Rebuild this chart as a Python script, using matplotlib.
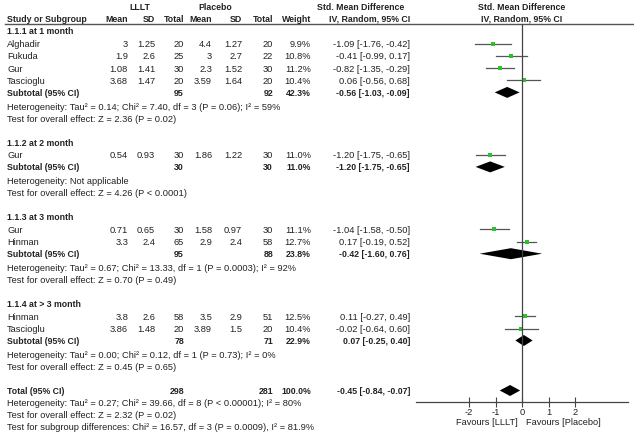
import numpy as np
import matplotlib
matplotlib.use("Agg")
from matplotlib import pyplot as plt

plt.rcParams['font.family'] = ['Liberation Sans', 'DejaVu Sans']

# subgroups
groups = ['1.1.1 at 1 month', '1.1.2 at 2 month', '1.1.3 at 3 month', '1.1.4 at > 3 month']

# studies per subgroup
study = [['Alghadir', 'Fukuda', 'Gur', 'Tascioglu'],
         ['Gur'],
         ['Gur', 'Hinman'],
         ['Hinman', 'Tascioglu']]
lllt_mean = [['3', '1.9', '1.08', '3.68'], ['0.54'], ['0.71', '3.3'], ['3.8', '3.86']]
lllt_sd = [['1.25', '2.6', '1.41', '1.47'], ['0.93'], ['0.65', '2.4'], ['2.6', '1.48']]
lllt_n = [[20, 25, 30, 20], [30], [30, 65], [58, 20]]
plac_mean = [['4.4', '3', '2.3', '3.59'], ['1.86'], ['1.58', '2.9'], ['3.5', '3.89']]
plac_sd = [['1.27', '2.7', '1.52', '1.64'], ['1.22'], ['0.97', '2.4'], ['2.9', '1.5']]
plac_n = [[20, 22, 30, 20], [30], [30, 58], [51, 20]]
weight = [[9.9, 10.8, 11.2, 10.4], [11.0], [11.1, 12.7], [12.5, 10.4]]
smd = [[-1.09, -0.41, -0.82, 0.06], [-1.20], [-1.04, 0.17], [0.11, -0.02]]
lo = [[-1.76, -0.99, -1.35, -0.56], [-1.75], [-1.58, -0.19], [-0.27, -0.64]]
hi = [[-0.42, 0.17, -0.29, 0.68], [-0.65], [-0.50, 0.52], [0.49, 0.60]]

# subtotals
sub_n1 = [95, 30, 95, 78]
sub_n2 = [92, 30, 88, 71]
sub_w = [42.3, 11.0, 23.8, 22.9]
sub_smd = [-0.56, -1.20, -0.42, 0.07]
sub_lo = [-1.03, -1.75, -1.60, -0.25]
sub_hi = [-0.09, -0.65, 0.76, 0.40]
sub_het = ['Heterogeneity: Tau² = 0.14; Chi² = 7.40, df = 3 (P = 0.06); I² = 59%',
           'Heterogeneity: Not applicable',
           'Heterogeneity: Tau² = 0.67; Chi² = 13.33, df = 1 (P = 0.0003); I² = 92%',
           'Heterogeneity: Tau² = 0.00; Chi² = 0.12, df = 1 (P = 0.73); I² = 0%']
sub_test = ['Test for overall effect: Z = 2.36 (P = 0.02)',
            'Test for overall effect: Z = 4.26 (P < 0.0001)',
            'Test for overall effect: Z = 0.70 (P = 0.49)',
            'Test for overall effect: Z = 0.45 (P = 0.65)']

# total
tot_n1, tot_n2, tot_w = 298, 281, 100.0
tot_smd, tot_lo, tot_hi = -0.45, -0.84, -0.07
tot_lines = ['Heterogeneity: Tau² = 0.27; Chi² = 39.66, df = 8 (P < 0.00001); I² = 80%',
             'Test for overall effect: Z = 2.32 (P = 0.02)',
             'Test for subgroup differences: Chi² = 16.57, df = 3 (P = 0.0009), I² = 81.9%']

ticks = [-2, -1, 0, 1, 2]

fs = 6.7     # regular text
fsb = 6.3    # bold text
tc = '#222222'
green = '#2ec02e'

fig = plt.figure(figsize=(6.34, 4.35), dpi=100)
ax = fig.add_axes([0, 0, 1, 1])
ax.set_xlim(0, 634)
ax.set_ylim(435, 0)
ax.axis('off')

# forest axes: same vertical pixel scale, effect size horizontally
fx = fig.add_axes([416 / 634, 0, 212 / 634, 1])
fx.set_xlim(-4, 4)
fx.set_ylim(435, 0)
fx.patch.set_alpha(0)
for s in ['top', 'left', 'right']:
    fx.spines[s].set_visible(False)
fx.spines['bottom'].set_position(('data', 403))
fx.spines['bottom'].set_color('#444444')
fx.spines['bottom'].set_linewidth(0.9)
fx.set_yticks([])
fx.set_xticks(ticks)
fx.set_xticklabels([str(t) for t in ticks], fontsize=fs, color=tc)
fx.tick_params(axis='x', direction='inout', length=7, width=0.8, color='#444444', pad=0)

# column right edges
cols = [128, 155, 184, 212, 242, 273, 311, 410]


def txt(x, y, s, ha='left', bold=False):
    ax.text(x, y, s, ha=ha, va='center', fontsize=fsb if bold else fs, color=tc,
            fontweight='bold' if bold else 'normal')


# header
txt(140, 7, 'LLLT', ha='center', bold=True)
txt(215, 7, 'Placebo', ha='center', bold=True)
txt(361, 7, 'Std. Mean Difference', ha='center', bold=True)
txt(522, 7, 'Std. Mean Difference', ha='center', bold=True)
txt(7, 19, 'Study or Subgroup', bold=True)
for x, s in zip(cols, ['Mean', 'SD', 'Total', 'Mean', 'SD', 'Total', 'Weight', 'IV, Random, 95% CI']):
    txt(x, 19, s, ha='right', bold=True)
txt(522, 19, 'IV, Random, 95% CI', ha='center', bold=True)
ax.plot([5, 634], [25, 25], color='#555555', lw=1)


def ci(m, a, b):
    return '%.2f [%.2f, %.2f]' % (m, a, b)


def diamond(y, m, a, b):
    fx.fill([a, m, b, m], [y, y - 5.5, y, y + 5.5], color='black', lw=0)


y = 32
for g in range(len(groups)):
    txt(7, y, groups[g], bold=True)
    y += 12.5
    for i in range(len(study[g])):
        txt(7, y, study[g][i])
        vals = [lllt_mean[g][i], lllt_sd[g][i], str(lllt_n[g][i]),
                plac_mean[g][i], plac_sd[g][i], str(plac_n[g][i]),
                '%.1f%%' % weight[g][i], ci(smd[g][i], lo[g][i], hi[g][i])]
        for x, s in zip(cols, vals):
            txt(x, y, s, ha='right')
        fx.plot([lo[g][i], hi[g][i]], [y, y], color='#555555', lw=0.9)
        fx.plot(smd[g][i], y, 's', color=green, ms=weight[g][i] * 0.22, mew=0)
        y += 12.3
    y -= 0.3
    txt(7, y, 'Subtotal (95% CI)', bold=True)
    txt(cols[2], y, str(sub_n1[g]), ha='right', bold=True)
    txt(cols[5], y, str(sub_n2[g]), ha='right', bold=True)
    txt(cols[6], y, '%.1f%%' % sub_w[g], ha='right', bold=True)
    txt(cols[7], y, ci(sub_smd[g], sub_lo[g], sub_hi[g]), ha='right', bold=True)
    diamond(y, sub_smd[g], sub_lo[g], sub_hi[g])
    y += 14
    txt(7, y, sub_het[g])
    y += 12
    txt(7, y, sub_test[g])
    y += 24

txt(7, y, 'Total (95% CI)', bold=True)
txt(cols[2], y, str(tot_n1), ha='right', bold=True)
txt(cols[5], y, str(tot_n2), ha='right', bold=True)
txt(cols[6], y, '%.1f%%' % tot_w, ha='right', bold=True)
txt(cols[7], y, ci(tot_smd, tot_lo, tot_hi), ha='right', bold=True)
diamond(y, tot_smd, tot_lo, tot_hi)
for s in tot_lines:
    y += 12
    txt(7, y, s)

# zero line
fx.plot([0, 0], [25, 403], color='#444444', lw=0.9)
fx.text(-0.15, 423, 'Favours [LLLT]', ha='right', va='center', fontsize=fs, color=tc)
fx.text(0.15, 423, 'Favours [Placebo]', ha='left', va='center', fontsize=fs, color=tc)

fig.savefig('out.png', dpi=100)
